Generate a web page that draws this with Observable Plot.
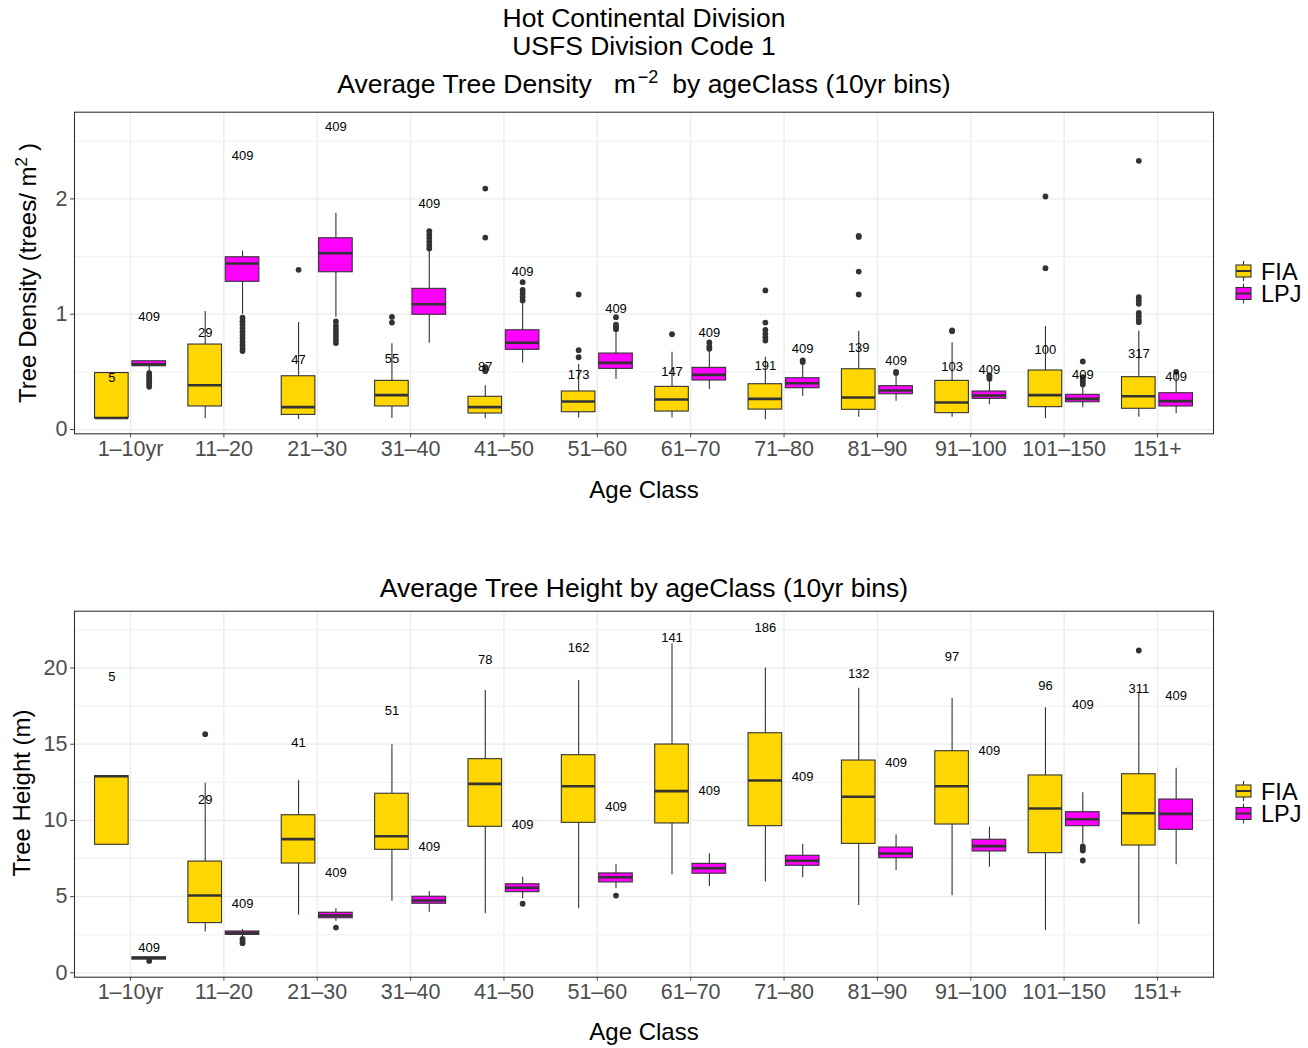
<!DOCTYPE html>
<html><head><meta charset="utf-8">
<script src="https://cdn.jsdelivr.net/npm/d3@7"></script>
<script src="https://cdn.jsdelivr.net/npm/@observablehq/plot@0.6"></script>
<style>
body{margin:0;background:#fff;}
#root{position:relative;width:1308px;height:1048px;background:#fff;overflow:hidden;}
#root svg{position:absolute;left:0;}
</style></head><body><div id="root"></div>
<script>
// ---------- DATA ----------
const categories = ["1\u201310yr","11\u201320","21\u201330","31\u201340","41\u201350","51\u201360","61\u201370","71\u201380","81\u201390","91\u2013100","101\u2013150","151+"];
const seriesNames = ["FIA","LPJ"];

// Tree density: [lower whisker, Q1, median, Q3, upper whisker]
const densityFIA = [
  [0.10,0.10,0.10,0.49,0.49],[0.095,0.20,0.384,0.737,1.023],[0.087,0.127,0.194,0.462,0.928],
  [0.095,0.20,0.298,0.422,0.743],[0.093,0.139,0.194,0.284,0.379],[0.10,0.15,0.243,0.33,0.564],
  [0.10,0.156,0.26,0.37,0.67],[0.084,0.173,0.266,0.393,0.627],[0.107,0.171,0.278,0.523,0.853],
  [0.107,0.142,0.234,0.422,0.752],[0.093,0.194,0.298,0.512,0.893],[0.107,0.18,0.289,0.454,0.853]];
const densityLPJ = [
  [0.50,0.549,0.566,0.592,0.592],[1.0,1.281,1.44,1.494,1.547],[0.974,1.364,1.529,1.659,1.876],
  [0.749,0.995,1.087,1.22,1.55],[0.578,0.691,0.752,0.861,1.104],[0.434,0.526,0.578,0.659,0.859],
  [0.347,0.425,0.474,0.535,0.685],[0.289,0.358,0.402,0.445,0.57],[0.246,0.306,0.338,0.376,0.48],
  [0.214,0.266,0.295,0.33,0.425],[0.188,0.237,0.266,0.301,0.38],[0.136,0.2,0.246,0.315,0.488]];
const densityFIAOutliers = [
  ["21\u201330",1.385],["31\u201340",0.977],["31\u201340",0.928],
  ["41\u201350",2.09],["41\u201350",1.665],["41\u201350",0.54],["41\u201350",0.52],["41\u201350",0.506],
  ["51\u201360",1.171],["51\u201360",0.688],["51\u201360",0.627],["61\u201370",0.827],
  ["71\u201380",1.206],["71\u201380",0.928],["71\u201380",0.865],["71\u201380",0.83],["71\u201380",0.80],["71\u201380",0.772],
  ["81\u201390",1.68],["81\u201390",1.67],["81\u201390",1.37],["81\u201390",1.171],
  ["91\u2013100",0.853],["91\u2013100",0.86],["101\u2013150",2.021],["101\u2013150",1.399],
  ["151+",2.33],["151+",1.148],["151+",1.119],["151+",1.09],["151+",1.012],["151+",0.983],["151+",0.95],["151+",0.931]];
const densityLPJOutliers = [
  ["1\u201310yr",0.49],["1\u201310yr",0.47],["1\u201310yr",0.45],["1\u201310yr",0.43],["1\u201310yr",0.41],["1\u201310yr",0.39],["1\u201310yr",0.37],
  ["11\u201320",0.97],["11\u201320",0.94],["11\u201320",0.91],["11\u201320",0.88],["11\u201320",0.85],["11\u201320",0.82],["11\u201320",0.79],["11\u201320",0.76],["11\u201320",0.73],["11\u201320",0.70],["11\u201320",0.68],
  ["21\u201330",0.937],["21\u201330",0.90],["21\u201330",0.87],["21\u201330",0.84],["21\u201330",0.81],["21\u201330",0.78],["21\u201330",0.75],
  ["31\u201340",1.57],["31\u201340",1.60],["31\u201340",1.63],["31\u201340",1.66],["31\u201340",1.69],["31\u201340",1.72],
  ["41\u201350",1.12],["41\u201350",1.15],["41\u201350",1.18],["41\u201350",1.21],["41\u201350",1.278],
  ["51\u201360",0.87],["51\u201360",0.89],["51\u201360",0.91],["51\u201360",0.974],
  ["61\u201370",0.70],["61\u201370",0.72],["61\u201370",0.755],
  ["71\u201380",0.585],["71\u201380",0.60],
  ["81\u201390",0.49],["81\u201390",0.50],
  ["91\u2013100",0.44],["91\u2013100",0.46],["91\u2013100",0.47],
  ["101\u2013150",0.39],["101\u2013150",0.41],["101\u2013150",0.43],["101\u2013150",0.454],["101\u2013150",0.59],
  ["151+",0.50]];
const densityFIACounts = [5,29,47,55,87,173,147,191,139,103,100,317];
const densityLPJCounts = [409,409,409,409,409,409,409,409,409,409,409,409];
const densityFIALabelY = [0.445,0.835,0.604,0.613,0.54,0.474,0.50,0.549,0.705,0.546,0.691,0.656];
const densityLPJLabelY = [0.974,2.376,2.628,1.954,1.368,1.047,0.838,0.697,0.598,0.518,0.474,0.454];

// Tree height: [lower whisker, Q1, median, Q3, upper whisker]
const heightFIA = [
  [8.40,8.40,12.9,12.9,12.9],[2.67,3.26,5.07,7.30,12.44],[3.8,7.17,8.77,10.34,12.62],
  [4.70,8.07,8.96,11.75,14.96],[3.87,9.58,12.40,14.02,18.52],[4.2,9.84,12.24,14.28,19.18],
  [6.43,9.80,11.92,14.98,21.59],[5.95,9.62,12.62,15.72,20.01],[4.42,8.46,11.55,13.93,18.68],
  [5.05,9.73,12.24,14.54,18.0],[2.78,7.85,10.78,12.95,17.39],[3.17,8.35,10.47,13.03,18.41]];
const heightLPJ = [
  [0.85,0.88,0.95,1.02,1.04],[2.3,2.49,2.6,2.71,2.84],[3.39,3.58,3.76,3.94,4.2],
  [3.98,4.53,4.74,4.99,5.33],[4.86,5.29,5.58,5.81,6.27],[5.51,5.93,6.27,6.52,7.09],
  [5.66,6.50,6.86,7.15,7.81],[6.23,7.02,7.35,7.68,8.44],[6.71,7.52,7.83,8.22,9.05],
  [6.93,7.96,8.31,8.73,9.55],[8.46,9.62,10.08,10.54,11.81],[7.09,9.38,10.43,11.37,13.43]];
const heightFIAOutliers = [["11\u201320",15.66],["151+",21.15]];
const heightLPJOutliers = [
  ["1\u201310yr",0.78],["11\u201320",2.23],["11\u201320",2.1],["11\u201320",1.94],["21\u201330",2.97],
  ["41\u201350",4.53],["51\u201360",5.07],
  ["101\u2013150",8.29],["101\u2013150",8.15],["101\u2013150",8.02],["101\u2013150",7.37]];
const heightFIACounts = [5,29,41,51,78,162,141,186,132,97,96,311];
const heightLPJCounts = [409,409,409,409,409,409,409,409,409,409,409,409];
const heightFIALabelY = [19.4,11.35,15.07,17.19,20.54,21.3,21.98,22.64,19.62,20.71,18.81,18.63];
const heightLPJLabelY = [1.64,4.53,6.54,8.29,9.73,10.89,11.94,12.88,13.78,14.54,17.59,18.15];

// ---------- STYLE / LAYOUT ----------
const colors = {FIA: "#FFD700", LPJ: "#FF00FF"};
const W = 1308, ML = 74, MR = 95;
const STEP = (W - ML - MR) / 12.2;
const DX = STEP * 0.2;               // dodge offset
const HALF = STEP * 0.9 * 0.4 / 2;  // half box width
const innerInset = STEP / 2 - DX - HALF;
const outerInset = STEP / 2 + DX - HALF;
const GRID = "#ebebeb", DARK = "#333333";
const FONT = "'Liberation Sans', Arial, Helvetica, sans-serif";

function rows(stats, counts, labelY, series) {
  return categories.map((cat, i) => ({cat, series, lo: stats[i][0], q1: stats[i][1], med: stats[i][2], q3: stats[i][3], hi: stats[i][4], n: counts[i], ly: labelY[i]}));
}
function outs(list) { return list.map(([cat, v]) => ({cat, v})); }

function seriesMarks(data, outliers, series) {
  const sign = series === "FIA" ? -1 : 1;
  const insetLeft = series === "FIA" ? innerInset : outerInset;
  const insetRight = series === "FIA" ? outerInset : innerInset;
  return [
    Plot.ruleX(data, {x: "cat", y1: "lo", y2: "q1", dx: sign * DX, stroke: DARK, strokeWidth: 1.1}),
    Plot.ruleX(data, {x: "cat", y1: "q3", y2: "hi", dx: sign * DX, stroke: DARK, strokeWidth: 1.1}),
    Plot.barY(data, {x: "cat", y1: "q1", y2: "q3", fill: colors[series], stroke: DARK, strokeWidth: 1.1, insetLeft, insetRight}),
    Plot.tickY(data, {x: "cat", y: "med", stroke: DARK, strokeWidth: 2.6, insetLeft, insetRight}),
    Plot.dot(outliers, {x: "cat", y: "v", r: 2.9, fill: DARK, stroke: "none", dx: sign * DX}),
    Plot.text(data, {x: "cat", y: "ly", text: d => String(d.n), dx: sign * DX, fontSize: 13, fill: "#000", fontFamily: FONT})
  ];
}

function chart({height, marginTop, marginBottom, domain, ticks, major, minor, fia, lpj, fiaOut, lpjOut}) {
  return Plot.plot({
    width: W, height, marginLeft: ML, marginRight: MR, marginTop, marginBottom,
    style: {fontFamily: FONT, fontSize: "21.5px", color: "#4d4d4d", background: "transparent", overflow: "visible"},
    x: {type: "band", domain: categories, paddingInner: 0, paddingOuter: 0.1, align: 0.5, round: false, label: null, tickSize: 4, tickPadding: 3},
    y: {domain, ticks, label: null, tickSize: 4, tickPadding: 3},
    marks: [
      Plot.ruleY(minor, {stroke: GRID, strokeWidth: 0.7}),
      Plot.ruleY(major, {stroke: GRID, strokeWidth: 1.3}),
      Plot.ruleX(categories, {x: d => d, stroke: GRID, strokeWidth: 1.3}),
      ...seriesMarks(fia, fiaOut, "FIA"),
      ...seriesMarks(lpj, lpjOut, "LPJ"),
      Plot.frame({stroke: DARK, strokeWidth: 1.1})
    ]
  });
}

const root = document.getElementById("root");

const densityChart = chart({
  height: 400, marginTop: 11.7, marginBottom: 66.7, domain: [-0.037, 2.752], ticks: 3,
  major: [0, 1, 2], minor: [0.5, 1.5, 2.5],
  fia: rows(densityFIA, densityFIACounts, densityFIALabelY, "FIA"),
  lpj: rows(densityLPJ, densityLPJCounts, densityLPJLabelY, "LPJ"),
  fiaOut: outs(densityFIAOutliers), lpjOut: outs(densityLPJOutliers)
});
densityChart.style.top = "100px";
root.appendChild(densityChart);

const heightChart = chart({
  height: 420, marginTop: 10.7, marginBottom: 43.3, domain: [-0.29, 23.73], ticks: 5,
  major: [0, 5, 10, 15, 20], minor: [2.5, 7.5, 12.5, 17.5, 22.5],
  fia: rows(heightFIA, heightFIACounts, heightFIALabelY, "FIA"),
  lpj: rows(heightLPJ, heightLPJCounts, heightLPJLabelY, "LPJ"),
  fiaOut: outs(heightFIAOutliers), lpjOut: outs(heightLPJOutliers)
});
heightChart.style.top = "600px";
root.appendChild(heightChart);

// ---------- TITLES, AXIS TITLES, LEGENDS ----------
function legend(cy) {
  return seriesNames.map((s, i) => {
    const y = cy + i * 22.5;
    return `<line x1="1243.5" x2="1243.5" y1="${y-10}" y2="${y+10}" stroke="${DARK}" stroke-width="1.1"/>
      <rect x="1236" y="${y-6}" width="15" height="12" fill="${colors[s]}" stroke="${DARK}" stroke-width="1.1"/>
      <line x1="1236" x2="1251" y1="${y}" y2="${y}" stroke="${DARK}" stroke-width="2"/>
      <text x="1261" y="${y+8.5}" font-size="23.5" fill="#000">${s}</text>`;
  }).join("");
}
const overlay = `<svg width="1308" height="1048" style="top:0;pointer-events:none" font-family="${FONT}" xmlns="http://www.w3.org/2000/svg">
  <g fill="#000" text-anchor="middle" font-size="26.5">
    <text x="644" y="27">Hot Continental Division</text>
    <text x="644" y="55">USFS Division Code 1</text>
    <text x="644" y="93">Average Tree Density<tspan dx="22">m</tspan><tspan dx="2" dy="-10" font-size="18">\u22122</tspan><tspan dx="14" dy="10">by ageClass (10yr bins)</tspan></text>
    <text x="644" y="597">Average Tree Height by ageClass (10yr bins)</text>
  </g>
  <g fill="#000" text-anchor="middle" font-size="24">
    <text x="644" y="498">Age Class</text>
    <text x="644" y="1040">Age Class</text>
    <text transform="translate(36,273) rotate(-90)">Tree Density (trees/ m<tspan dy="-9" font-size="17">2</tspan><tspan dy="9" dx="6">)</tspan></text>
    <text transform="translate(30,793) rotate(-90)">Tree Height (m)</text>
  </g>
  ${legend(271)}
  ${legend(791)}
</svg>`;
root.insertAdjacentHTML("beforeend", overlay);
</script></body></html>
